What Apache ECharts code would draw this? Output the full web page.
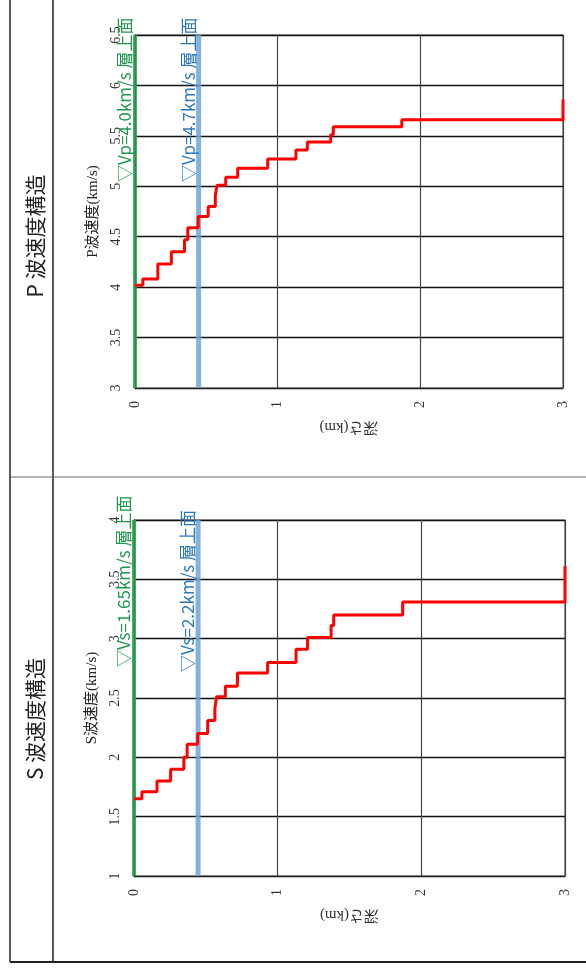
<!DOCTYPE html>
<html>
<head>
<meta charset="utf-8">
<script src="https://cdn.jsdelivr.net/npm/echarts@6/dist/echarts.min.js"></script>
<style>
  html, body { margin: 0; padding: 0; background: #fff; }
  #chart { width: 586px; height: 969px; }
</style>
</head>
<body>
<div id="chart"></div>
<script>
// layer tops (km) and velocities (km/s)
const depthKm = [0, 0.055, 0.16, 0.255, 0.347, 0.37, 0.443, 0.513, 0.563, 0.575, 0.636, 0.72, 0.93, 1.128, 1.208, 1.372, 1.39, 1.87, 3.0];
const vpKms = [4.02, 4.08, 4.23, 4.35, 4.47, 4.59, 4.70, 4.80, 4.91, 5.01, 5.09, 5.18, 5.27, 5.36, 5.44, 5.51, 5.59, 5.66, 5.86];
const vsKms = [1.65, 1.71, 1.80, 1.90, 2.00, 2.11, 2.20, 2.31, 2.41, 2.51, 2.60, 2.71, 2.80, 2.91, 3.01, 3.11, 3.20, 3.31, 3.61];

// marker lines (layer top depths) and their labels
const markerDepth = [0, 0.446];
const pMarkerLabels = ["▽Vp=4.0km/s 層上面", "▽Vp=4.7km/s 層上面"];
const sMarkerLabels = ["▽Vs=1.65km/s 層上面", "▽Vs=2.2km/s 層上面"];

const depthTicks = [0, 1, 2, 3];
const pRange = [3, 6.5];
const sRange = [1, 4];

const panelTitles = ["P 波速度構造", "S 波速度構造"];
const velocityNames = ["P波速度(km/s)", "S波速度(km/s)"];
const depthName = "深さ(km)";

const chart = echarts.init(document.getElementById("chart"));

const serif = "'Liberation Serif', 'Noto Sans CJK JP', serif";
const sans = "'Noto Sans CJK JP', 'Noto Sans', sans-serif";
const markerColors = ["#1f9a4c", "#2a78c2"];
const markerLineColors = ["rgba(40,160,80,0.85)", "rgba(110,165,215,0.85)"];

function xAxisOf(gridIndex) {
  return {
    type: "value",
    gridIndex,
    min: depthTicks[0],
    max: depthTicks[depthTicks.length - 1],
    interval: 1,
    axisLine: { show: true, lineStyle: { color: "#222", width: 1.2 } },
    axisTick: { show: false },
    axisLabel: { rotate: 90, margin: 13, fontFamily: serif, fontSize: 14, color: "#333" },
    splitLine: { show: true, lineStyle: { color: "#444", width: 1.2 } },
  };
}

function yAxisOf(gridIndex, range, name) {
  return {
    type: "value",
    gridIndex,
    min: range[0],
    max: range[1],
    interval: 0.5,
    name,
    nameLocation: "middle",
    nameRotate: 90,
    nameGap: 34,
    nameTextStyle: { fontFamily: serif, fontSize: 15, color: "#222" },
    axisLine: { show: true, lineStyle: { color: "#222" } },
    axisTick: { show: false },
    axisLabel: { rotate: 90, margin: 12, fontFamily: serif, fontSize: 14, color: "#333" },
    splitLine: { show: true, lineStyle: { color: "#111", width: 1.4 } },
  };
}

function markerSeries(gridIndex, range) {
  return markerDepth.map((d, i) => ({
    type: "line",
    xAxisIndex: gridIndex,
    yAxisIndex: gridIndex,
    data: [[d, range[0]], [d, range[1]]],
    symbol: "none",
    silent: true,
    z: 3,
    lineStyle: { color: markerLineColors[i], width: i === 0 ? 4 : 5 },
  }));
}

function stepSeries(gridIndex, values) {
  return {
    type: "line",
    xAxisIndex: gridIndex,
    yAxisIndex: gridIndex,
    step: "end",
    data: depthKm.map((d, i) => [d, values[i]]),
    symbol: "none",
    z: 4,
    lineStyle: { color: "#ff0000", width: 3 },
  };
}

chart.setOption({
  backgroundColor: "#fff",
  animation: false,
  grid: [
    { left: 135, top: 35, width: 428, height: 353, show: true, borderColor: "#555", borderWidth: 1.2 },
    { left: 134, top: 520, width: 431, height: 356, show: true, borderColor: "#555", borderWidth: 1.2 },
  ],
  xAxis: [xAxisOf(0), xAxisOf(1)],
  yAxis: [yAxisOf(0, pRange, velocityNames[0]), yAxisOf(1, sRange, velocityNames[1])],
  series: [
    ...markerSeries(0, pRange),
    stepSeries(0, vpKms),
    ...markerSeries(1, sRange),
    stepSeries(1, vsKms),
  ],
});

// frame, titles and marker labels
const graphics = [
  { type: "line", shape: { x1: 10, y1: 0, x2: 10, y2: 962 }, style: { stroke: "#222", lineWidth: 1.5 } },
  { type: "line", shape: { x1: 53, y1: 0, x2: 53, y2: 962 }, style: { stroke: "#222", lineWidth: 1.5 } },
  { type: "line", shape: { x1: 10, y1: 477, x2: 586, y2: 477 }, style: { stroke: "#666", lineWidth: 1 } },
  { type: "line", shape: { x1: 10, y1: 962, x2: 586, y2: 962 }, style: { stroke: "#222", lineWidth: 2 } },
];

const titleCenters = [236, 719];
panelTitles.forEach((t, i) => {
  graphics.push({
    type: "text",
    x: 35,
    y: titleCenters[i],
    rotation: Math.PI / 2,
    style: { text: t, fontFamily: sans, fontSize: 21, fill: "#222", align: "center", verticalAlign: "middle" },
  });
});

[[0, pMarkerLabels, pRange], [1, sMarkerLabels, sRange]].forEach(([g, labels, range]) => {
  // depth axis name, upside down under the axis
  const a = chart.convertToPixel({ gridIndex: g }, [1.5, range[0]]);
  graphics.push({
    type: "text",
    x: a[0],
    y: a[1] + 39,
    rotation: Math.PI,
    style: { text: depthName, fontFamily: serif, fontSize: 15, fill: "#333", align: "center", verticalAlign: "middle" },
  });
  labels.forEach((lab, i) => {
    const p = chart.convertToPixel({ gridIndex: g }, [markerDepth[i], range[1]]);
    graphics.push({
      type: "text",
      x: p[0] - 2,
      y: p[1] + (g === 1 && i === 1 ? 152 : 147),
      rotation: Math.PI / 2,
      z: 10,
      style: { text: lab, fontFamily: sans, fontSize: 17, fill: markerColors[i], align: "left", verticalAlign: "bottom" },
    });
  });
});

chart.setOption({ graphic: graphics });
</script>
</body>
</html>
